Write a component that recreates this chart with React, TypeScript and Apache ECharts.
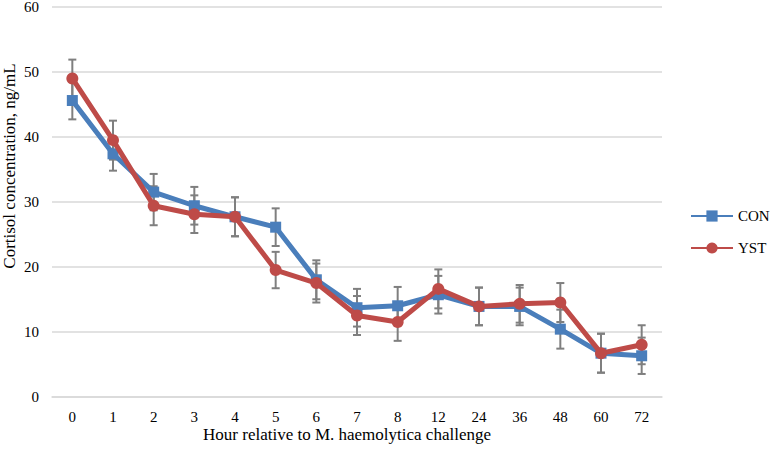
import React, { useEffect, useRef } from "react";
import * as echarts from "echarts";

const categories = ["0", "1", "2", "3", "4", "5", "6", "7", "8", "12", "24", "36", "48", "60", "72"];
const conValues = [45.6, 37.4, 31.5, 29.4, 27.7, 26.1, 18.0, 13.7, 14.0, 15.7, 13.9, 13.9, 10.4, 6.7, 6.3];
const conErr = [2.9, 2.6, 2.8, 2.9, 3.0, 2.9, 3.0, 2.9, 2.9, 2.9, 2.9, 2.9, 3.0, 3.0, 2.8];
const ystValues = [49.0, 39.5, 29.4, 28.1, 27.7, 19.5, 17.5, 12.5, 11.5, 16.6, 13.9, 14.3, 14.5, 6.7, 8.0];
const ystErr = [2.9, 3.0, 3.0, 2.9, 3.0, 2.8, 3.0, 3.0, 2.9, 3.0, 2.9, 2.9, 3.0, 3.0, 3.0];
const yTicks = { min: 0, max: 60, interval: 10 };
const xTitle = "Hour relative to M. haemolytica challenge";
const yTitle = "Cortisol concentration, ng/mL";

const FONT = "Liberation Serif";

function errData(vals: number[], errs: number[]) {
  return vals.map((v, i) => [i, v - errs[i], v + errs[i]]);
}

function errRender(params: any, api: any) {
  const x = api.value(0);
  const lo = api.coord([x, api.value(1)]);
  const hi = api.coord([x, api.value(2)]);
  const half = 4;
  const style = { stroke: "#7f7f7f", lineWidth: 2 };
  return {
    type: "group",
    children: [
      { type: "line", shape: { x1: lo[0], y1: lo[1], x2: hi[0], y2: hi[1] }, style },
      { type: "line", shape: { x1: lo[0] - half, y1: lo[1], x2: lo[0] + half, y2: lo[1] }, style },
      { type: "line", shape: { x1: hi[0] - half, y1: hi[1], x2: hi[0] + half, y2: hi[1] }, style },
    ],
  };
}

export default function App() {
  const ref = useRef<HTMLDivElement>(null);
  useEffect(() => {
    if (!ref.current) return;
    const chart = echarts.init(ref.current, undefined, { renderer: "svg" });
    chart.setOption({
      animation: false,
      backgroundColor: "#ffffff",
      grid: { left: 52, right: 109, top: 7, bottom: 56.3, containLabel: false, outerBoundsMode: "none" },
      legend: {
        orient: "vertical",
        left: 690,
        top: 208.5,
        padding: 0,
        itemWidth: 42,
        itemHeight: 14,
        itemGap: 17,
        textStyle: { fontFamily: FONT, fontSize: 15, color: "#000" },
        data: ["CON", "YST"],
      },
      graphic: [
        {
          type: "text",
          x: 347,
          y: 434,
          silent: true,
          style: {
            text: xTitle,
            fontFamily: FONT,
            fontSize: 17,
            fill: "#000",
            align: "center",
            verticalAlign: "middle",
          },
        },
        {
          type: "text",
          x: 9,
          y: 166,
          rotation: Math.PI / 2,
          silent: true,
          style: {
            text: yTitle,
            fontFamily: FONT,
            fontSize: 17,
            fill: "#000",
            align: "center",
            verticalAlign: "middle",
          },
        },
      ],
      xAxis: {
        type: "category",
        data: categories,
        boundaryGap: true,
        axisLine: { show: true, lineStyle: { color: "#d9d9d9", width: 1.5 } },
        axisTick: { show: false },
        axisLabel: { fontFamily: FONT, fontSize: 15, color: "#000", margin: 13 },
      },
      yAxis: {
        type: "value",
        min: yTicks.min,
        max: yTicks.max,
        interval: yTicks.interval,
        axisLine: { show: false },
        axisTick: { show: false },
        splitLine: { lineStyle: { color: "#d9d9d9", width: 1.5 } },
        axisLabel: { fontFamily: FONT, fontSize: 15, lineHeight: 11, color: "#000", margin: 13 },
      },
      series: [
        {
          name: "CON err",
          type: "custom",
          renderItem: errRender,
          data: errData(conValues, conErr),
          encode: { x: 0, y: [1, 2] },
          z: 1,
          silent: true,
        },
        {
          name: "YST err",
          type: "custom",
          renderItem: errRender,
          data: errData(ystValues, ystErr),
          encode: { x: 0, y: [1, 2] },
          z: 1,
          silent: true,
        },
        {
          name: "CON",
          type: "line",
          data: conValues,
          symbol: "rect",
          symbolSize: 11,
          color: "#4a7ebb",
          lineStyle: { width: 5, color: "#4a7ebb" },
          itemStyle: { color: "#4a7ebb" },
          z: 3,
        },
        {
          name: "YST",
          type: "line",
          data: ystValues,
          symbol: "circle",
          symbolSize: 12,
          color: "#be4b48",
          lineStyle: { width: 5, color: "#be4b48" },
          itemStyle: { color: "#be4b48" },
          z: 4,
        },
      ],
    });
    return () => chart.dispose();
  }, []);
  return (
    <div
      ref={ref}
      style={{ position: "fixed", left: 0, top: 0, width: 771, height: 453, background: "#fff" }}
    />
  );
}
